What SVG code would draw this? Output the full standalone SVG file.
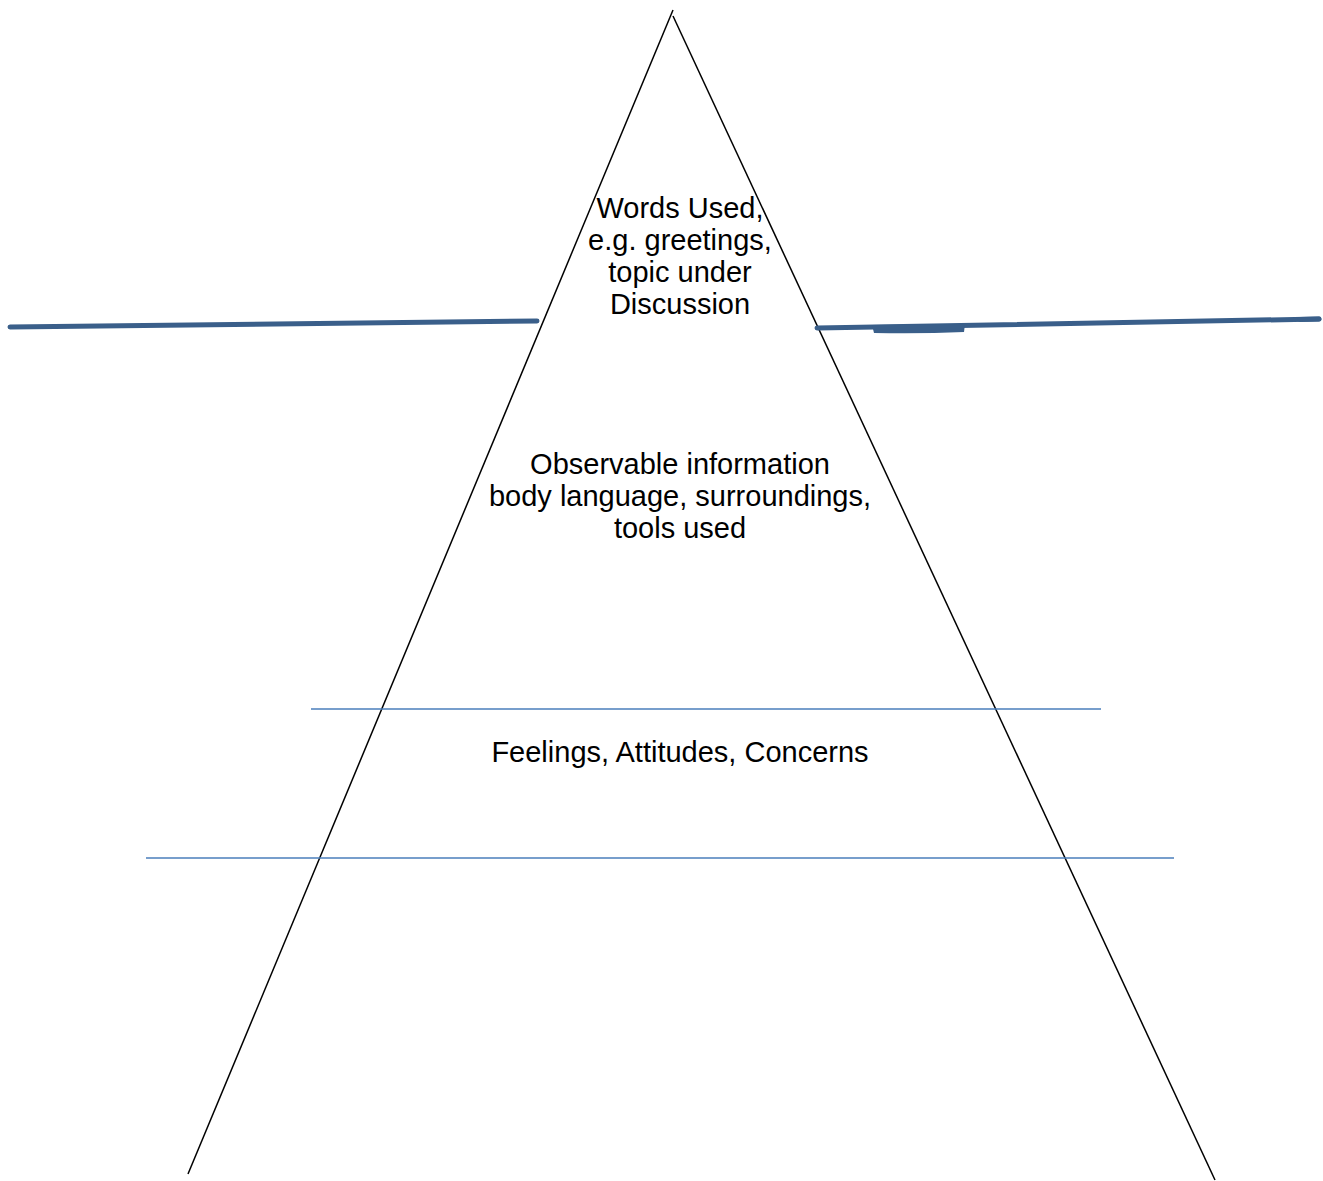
<svg xmlns="http://www.w3.org/2000/svg" width="1323" height="1181" viewBox="0 0 1323 1181">
<style>
.edge{stroke:#000;stroke-width:1.5;fill:none}
.thin{stroke:#4a7ebb;stroke-width:1.5;fill:none}
.thick{stroke:#3a5f8a;stroke-width:5;stroke-linecap:round;fill:none}
.lbl{font-family:"Liberation Sans",Arial,sans-serif;font-size:29px;fill:#000;text-anchor:middle}
</style>
<rect width="1323" height="1181" fill="#fff"/>
<g id="connectors">
<line class="edge" x1="188" y1="1174" x2="673" y2="10"/>
<line class="edge" x1="673" y1="16" x2="1215" y2="1180"/>
<line class="thin" x1="311" y1="709" x2="1101" y2="709"/>
<line class="thin" x1="146" y1="858" x2="1174" y2="858"/>
<path class="thick" d="M10,327 L537,321"/>
<path class="thick" d="M817,328 L1319,319" stroke-linecap="butt" stroke-width="6"/>
<path class="thick" d="M1300,319.4 L1319,319"/>
<path d="M872,325 L965,324 L964,332 Q920,334 874,333 Z" fill="#3a5f8a"/>
</g>
<g id="node-words">
<text class="lbl" x="680" y="218">Words Used,</text>
<text class="lbl" x="680" y="250">e.g. greetings,</text>
<text class="lbl" x="680" y="282">topic under</text>
<text class="lbl" x="680" y="314">Discussion</text>
</g>
<g id="node-observable">
<text class="lbl" x="680" y="474">Observable information</text>
<text class="lbl" x="680" y="506">body language, surroundings,</text>
<text class="lbl" x="680" y="538">tools used</text>
</g>
<g id="node-feelings">
<text class="lbl" x="680" y="762">Feelings, Attitudes, Concerns</text>
</g>
</svg>
